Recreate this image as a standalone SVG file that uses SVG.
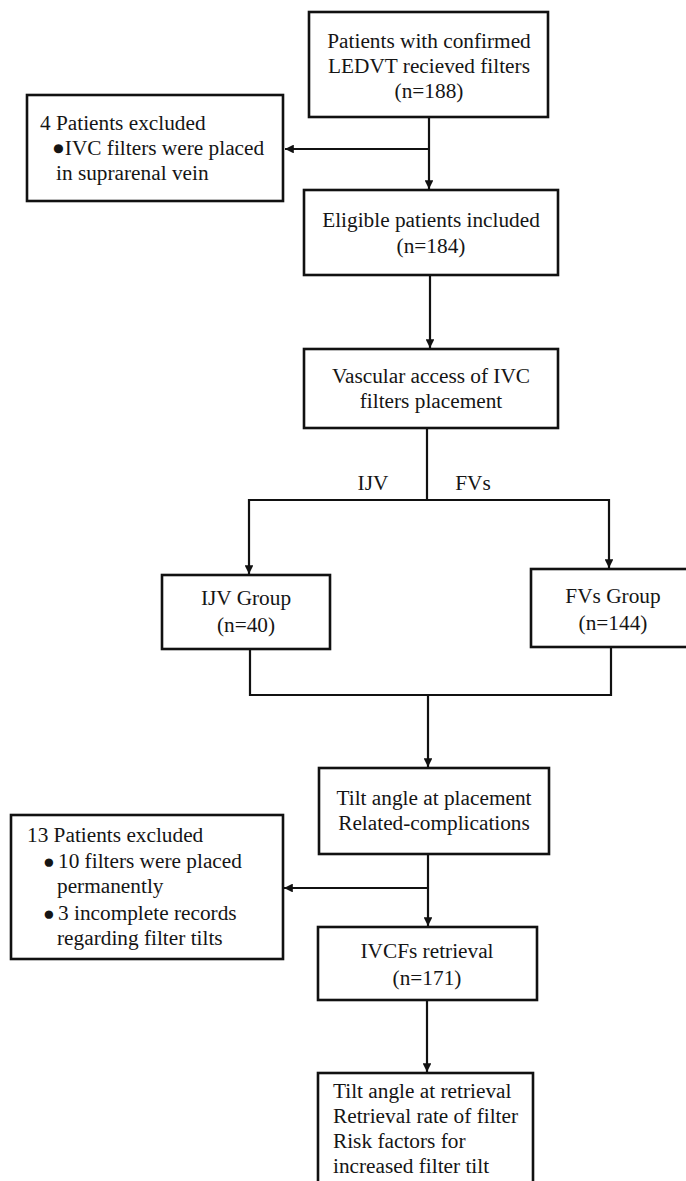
<svg xmlns="http://www.w3.org/2000/svg" width="686" height="1181" viewBox="0 0 686 1181">
<style>
.box{fill:#fff;stroke:#111;stroke-width:2.6}
.ln{fill:none;stroke:#111;stroke-width:2.2}
text{font-family:'Liberation Serif','Times New Roman',serif;font-size:21.3px;fill:#151515}
.c{text-anchor:middle}
.b{font-size:19.5px}
</style>
<defs>
<marker id="ah" viewBox="0 0 10 10" refX="10" refY="5" markerWidth="4" markerHeight="4" orient="auto" markerUnits="strokeWidth">
<path d="M0,0 L10,5 L0,10 z" fill="#111"/>
</marker>
</defs>
<rect width="686" height="1181" fill="#fff"/>
<g id="connectors">
<path class="ln" d="M429,117 V189" marker-end="url(#ah)"/>
<path class="ln" d="M429,149 H285" marker-end="url(#ah)"/>
<path class="ln" d="M430,275 V348" marker-end="url(#ah)"/>
<path class="ln" d="M427,428 V500 M249,500 H609"/>
<path class="ln" d="M249,499 V574" marker-end="url(#ah)"/>
<path class="ln" d="M609,499 V568" marker-end="url(#ah)"/>
<path class="ln" d="M250,649 V695 H611 V647"/>
<path class="ln" d="M428,695 V767" marker-end="url(#ah)"/>
<path class="ln" d="M428,854 V926" marker-end="url(#ah)"/>
<path class="ln" d="M428,888 H284" marker-end="url(#ah)"/>
<path class="ln" d="M427,1000 V1072" marker-end="url(#ah)"/>
<text x="373" y="490" class="c">IJV</text>
<text x="473" y="490" class="c">FVs</text>
</g>
<g id="n1">
<rect class="box" x="309" y="12" width="239" height="105"/>
<text x="429" y="48" class="c">Patients with confirmed</text>
<text x="429" y="73" class="c">LEDVT recieved filters</text>
<text x="429" y="98" class="c">(n=188)</text>
</g>
<g id="n2">
<rect class="box" x="27" y="95" width="256" height="106"/>
<text x="40" y="130">4 Patients excluded</text>
<text x="52" y="155">●IVC filters were placed</text>
<text x="56" y="180">in suprarenal vein</text>
</g>
<g id="n3">
<rect class="box" x="304" y="190" width="254" height="85"/>
<text x="431" y="227" class="c">Eligible patients included</text>
<text x="431" y="253" class="c">(n=184)</text>
</g>
<g id="n4">
<rect class="box" x="304" y="349" width="254" height="79"/>
<text x="431" y="383" class="c">Vascular access of IVC</text>
<text x="431" y="408" class="c">filters placement</text>
</g>
<g id="n5">
<rect class="box" x="162" y="575" width="168" height="74"/>
<text x="246" y="605" class="c">IJV Group</text>
<text x="246" y="632" class="c">(n=40)</text>
</g>
<g id="n6">
<rect class="box" x="531" y="569" width="170" height="78"/>
<text x="613" y="603" class="c">FVs Group</text>
<text x="613" y="630" class="c">(n=144)</text>
</g>
<g id="n7">
<rect class="box" x="319" y="768" width="230" height="86"/>
<text x="434" y="805" class="c">Tilt angle at placement</text>
<text x="434" y="830" class="c">Related-complications</text>
</g>
<g id="n8">
<rect class="box" x="11" y="815" width="272" height="144"/>
<text x="27" y="842">13 Patients excluded</text>
<text x="43" y="868"><tspan class="b">●</tspan><tspan x="58">10 filters were placed</tspan></text>
<text x="57" y="893">permanently</text>
<text x="43" y="920"><tspan class="b">●</tspan><tspan x="58">3 incomplete records</tspan></text>
<text x="57" y="945">regarding filter tilts</text>
</g>
<g id="n9">
<rect class="box" x="318" y="927" width="219" height="73"/>
<text x="427" y="958" class="c">IVCFs retrieval</text>
<text x="427" y="985" class="c">(n=171)</text>
</g>
<g id="n10">
<rect class="box" x="318" y="1073" width="215" height="130"/>
<text x="333" y="1098">Tilt angle at retrieval</text>
<text x="333" y="1123">Retrieval rate of filter</text>
<text x="333" y="1148">Risk factors for</text>
<text x="333" y="1173">increased filter tilt</text>
</g>
</svg>
